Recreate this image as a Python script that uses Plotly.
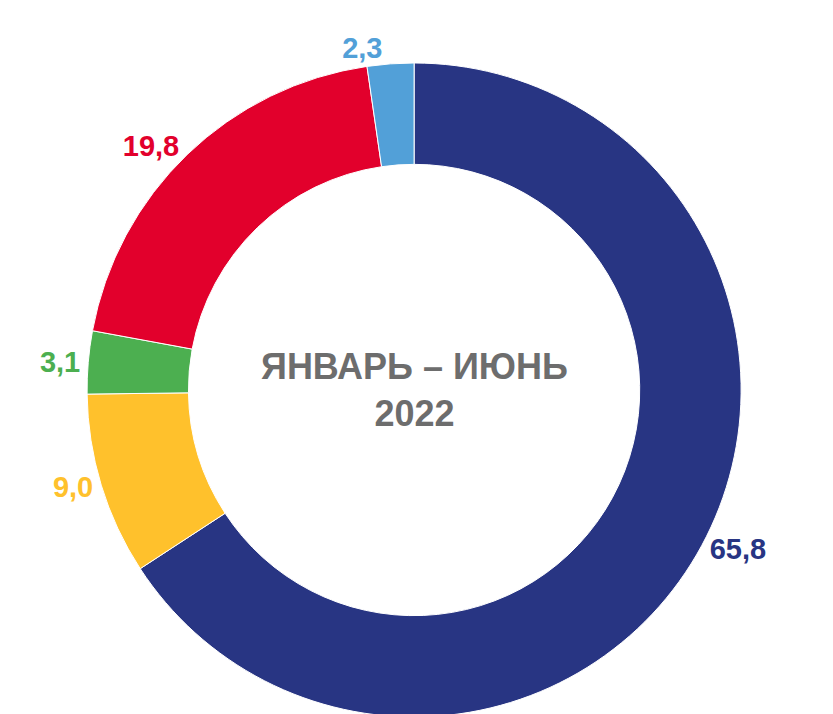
import plotly.graph_objects as go

categories = ["A", "B", "C", "D", "E"]
values = [65.8, 9.0, 3.1, 19.8, 2.3]
value_labels = ["65,8", "9,0", "3,1", "19,8", "2,3"]
colors = ["#283583", "#FFC12C", "#4CAF50", "#E2002C", "#52A0D8"]
center_title = "ЯНВАРЬ – ИЮНЬ<br>2022"

FONT = "Liberation Sans, Arial, sans-serif"

fig = go.Figure(go.Pie(
    labels=categories,
    values=values,
    text=value_labels,
    textinfo="text",
    texttemplate="<b>%{text}</b>",
    textposition="outside",
    hole=0.69,
    sort=False,
    direction="clockwise",
    rotation=0,
    automargin=False,
    domain=dict(x=[0, 0.975], y=[0.007, 0.923]),
    marker=dict(colors=colors, line=dict(color="white", width=1)),
    outsidetextfont=dict(family=FONT, size=29, color=colors),
    showlegend=False,
    hoverinfo="skip",
))

fig.update_layout(
    width=833, height=714,
    margin=dict(l=0, r=0, t=0, b=0, autoexpand=False),
    paper_bgcolor="white",
    annotations=[dict(
        text="<b>" + center_title + "</b>", x=0.4874, y=0.465, xref="paper", yref="paper",
        showarrow=False,
        font=dict(family=FONT, size=36, color="#6D6D6D"),
    )],
)

fig.write_html("out.html")
